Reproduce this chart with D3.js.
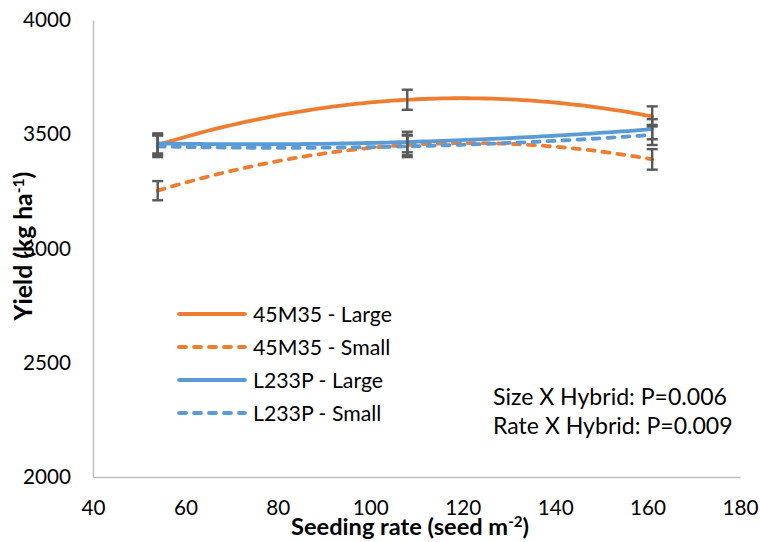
<!DOCTYPE html>
<html>
<head>
<meta charset="utf-8">
<script src="https://cdn.jsdelivr.net/npm/d3@7"></script>
<style>
  html, body { margin: 0; padding: 0; background: #fff; }
  svg { display: block; }
  text { font-family: Lato, "Open Sans", sans-serif; fill: #000; }
</style>
</head>
<body>
<svg id="chart" width="760" height="542"></svg>
<script>
// ---- data ----
const seedingRates = [54, 108, 161];
const seriesNames = ["45M35 - Large", "45M35 - Small", "L233P - Large", "L233P - Small"];
const yield45M35Large = [3453, 3651, 3578];
const yield45M35Small = [3253, 3453, 3390];
const yieldL233PLarge = [3460, 3466, 3522];
const yieldL233PSmall = [3447, 3447, 3497];
const err45M35Large = [45, 44, 44];
const err45M35Small = [42, 45, 45];
const errL233PLarge = [44, 45, 44];
const errL233PSmall = [47, 47, 44];
const xTicks = [40, 60, 80, 100, 120, 140, 160, 180];
const yTicks = [2000, 2500, 3000, 3500, 4000];
const notes = ["Size X Hybrid: P=0.006", "Rate X Hybrid: P=0.009"];

const seriesValues = [yield45M35Large, yield45M35Small, yieldL233PLarge, yieldL233PSmall];
const seriesErrors = [err45M35Large, err45M35Small, errL233PLarge, errL233PSmall];
const seriesColors = ["#ED7D31", "#ED7D31", "#5B9BD5", "#5B9BD5"];
const seriesDash = [null, "7,8", null, "7,8"];

const svg = d3.select("#chart");
const x = d3.scaleLinear().domain([40, 180]).range([93, 740]);
const y = d3.scaleLinear().domain([2000, 4000]).range([477, 20]);

// scale a text's font so that it spans a target width
function fit(sel, target) {
  const node = sel.node();
  const fs = parseFloat(sel.attr("font-size"));
  const w = node.getBBox().width;
  if (w > 0) sel.attr("font-size", (fs * target / w).toFixed(2));
  sel.selectAll("tspan").each(function() {
    const t = d3.select(this);
    if (t.attr("font-size")) t.attr("font-size", (parseFloat(t.attr("font-size")) * target / w).toFixed(2));
  });
}

// axes
const yAxis = svg.append("g").attr("transform", `translate(${x(40)},0)`)
  .call(d3.axisLeft(y).tickValues(yTicks).tickSize(0).tickSizeOuter(0).tickPadding(22).tickFormat(d3.format("d")));
const xAxis = svg.append("g").attr("transform", `translate(0,${y(2000)})`)
  .call(d3.axisBottom(x).tickValues(xTicks).tickSize(0).tickSizeOuter(0).tickPadding(23).tickFormat(d3.format("d")));
[yAxis, xAxis].forEach(g => {
  g.select(".domain").attr("stroke", "#BFBFBF").attr("stroke-width", 1.5);
  g.selectAll("text").attr("font-size", 21).attr("font-family", "Lato").attr("fill", "#000");
});
// match tick label size to the reference ("4000" is ~48px wide)
{
  const t = yAxis.selectAll(".tick text").filter(d => d === 4000);
  const w = t.node().getBBox().width;
  const fs = 21 * 48 / w;
  yAxis.selectAll("text").attr("font-size", fs);
  xAxis.selectAll("text").attr("font-size", fs);
}

// quadratic trend line through the three means (polynomial order 2)
function quad(xs, ys) {
  return t => {
    let s = 0;
    for (let i = 0; i < 3; i++) {
      let l = 1;
      for (let j = 0; j < 3; j++) if (j !== i) l *= (t - xs[j]) / (xs[i] - xs[j]);
      s += ys[i] * l;
    }
    return s;
  };
}
const line = d3.line().x(d => x(d[0])).y(d => y(d[1]));

seriesValues.forEach((vals, i) => {
  const f = quad(seedingRates, vals);
  const samples = d3.range(0, 81).map(k => {
    const t = seedingRates[0] + (seedingRates[2] - seedingRates[0]) * k / 80;
    return [t, f(t)];
  });
  svg.append("path").attr("d", line(samples))
    .attr("fill", "none").attr("stroke", seriesColors[i]).attr("stroke-width", 3.8)
    .attr("stroke-dasharray", seriesDash[i]).attr("stroke-linecap", "round");
});

// error bars
const capW = 5.5;
seriesValues.forEach((vals, i) => {
  const g = svg.append("g").attr("stroke", "#595959").attr("stroke-width", 2.4).attr("fill", "none");
  vals.forEach((v, k) => {
    const e = seriesErrors[i][k];
    const cx = x(seedingRates[k]);
    g.append("line").attr("x1", cx).attr("x2", cx).attr("y1", y(v + e)).attr("y2", y(v - e));
    g.append("line").attr("x1", cx - capW).attr("x2", cx + capW).attr("y1", y(v + e)).attr("y2", y(v + e));
    g.append("line").attr("x1", cx - capW).attr("x2", cx + capW).attr("y1", y(v - e)).attr("y2", y(v - e));
  });
});

// legend
const legend = svg.append("g");
seriesNames.forEach((name, i) => {
  const ly = 314 + i * 33;
  legend.append("line").attr("x1", 179).attr("x2", 245).attr("y1", ly).attr("y2", ly)
    .attr("stroke", seriesColors[i]).attr("stroke-width", 3.8)
    .attr("stroke-dasharray", seriesDash[i]).attr("stroke-linecap", "round");
  const t = legend.append("text").attr("x", 253).attr("y", ly).attr("dy", "0.36em")
    .attr("font-size", 21).text(name);
  if (i === 0) fit(t, 139);
});
{
  const fs = legend.select("text").attr("font-size");
  legend.selectAll("text").attr("font-size", fs);
}

// notes
const noteTexts = notes.map((n, i) =>
  svg.append("text").attr("x", 493).attr("y", 397 + i * 29).attr("dy", "0.36em")
    .attr("font-size", 21).text(n));
fit(noteTexts[0], 234);
noteTexts[1].attr("font-size", noteTexts[0].attr("font-size"));

// axis titles
const xt = svg.append("text").attr("x", 410).attr("y", 535).attr("text-anchor", "middle")
  .attr("font-size", 22).attr("font-weight", "bold");
xt.append("tspan").text("Seeding rate (seed m");
xt.append("tspan").attr("dy", -8).attr("font-size", 14).text("-2");
xt.append("tspan").attr("dy", 8).text(")");
fit(xt, 238);

const yt = svg.append("text").attr("transform", "translate(32,246) rotate(-90)").attr("text-anchor", "middle")
  .attr("font-size", 22).attr("font-weight", "bold");
yt.append("tspan").text("Yield (kg ha");
yt.append("tspan").attr("dy", -8).attr("font-size", 14).text("-1");
yt.append("tspan").attr("dy", 8).text(")");
fit(yt, 150);
</script>
</body>
</html>
